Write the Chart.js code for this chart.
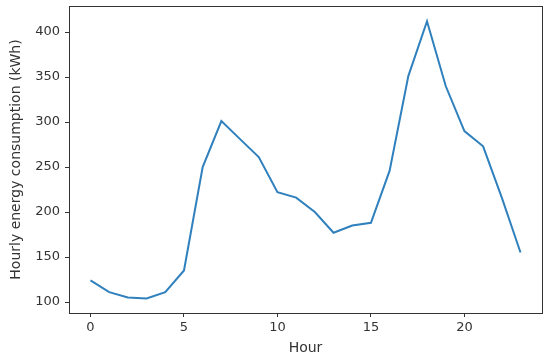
<!DOCTYPE html>
<html>
<head>
<meta charset="utf-8">
<script src="https://cdn.jsdelivr.net/npm/chart.js@4/dist/chart.umd.min.js"></script>
<style>
    html, body { margin: 0; padding: 0; background: #fff; }
    #energyChart { display: block; }
</style>
</head>
<body>
<canvas id="energyChart" width="550" height="361"></canvas>
<script>
// Data
const hours = [0, 1, 2, 3, 4, 5, 6, 7, 8, 9, 10, 11, 12, 13, 14, 15, 16, 17, 18, 19, 20, 21, 22, 23];
const consumption = [124, 111, 105, 104, 111, 135, 250, 301, 281, 261, 222, 216, 200, 177, 185, 188, 246, 351, 412, 340, 290, 273, 216, 155];
const xTicks = [0, 5, 10, 15, 20];
const yTicks = [100, 150, 200, 250, 300, 350, 400];

const inkColor = '#333';
const tickFont = { family: 'DejaVu Sans', size: 13 };
const titleFont = { family: 'DejaVu Sans', size: 14 };

// Draw the frame around the plot area (matplotlib style spines)
const framePlugin = {
    id: 'frame',
    afterDraw(chart) {
        const { ctx, chartArea } = chart;
        ctx.save();
        ctx.strokeStyle = inkColor;
        ctx.lineWidth = 1;
        ctx.strokeRect(
            Math.round(chartArea.left) + 0.5,
            Math.round(chartArea.top) + 0.5,
            Math.round(chartArea.right - chartArea.left),
            Math.round(chartArea.bottom - chartArea.top)
        );
        ctx.restore();
    }
};

const ctx = document.getElementById('energyChart').getContext('2d');
const energyChart = new Chart(ctx, {
    type: 'line',
    data: {
        datasets: [{
            data: hours.map((h, i) => ({ x: h, y: consumption[i] })),
            borderColor: '#2f80bd',
            borderWidth: 2,
            pointRadius: 0,
            tension: 0,
            fill: false
        }]
    },
    options: {
        responsive: false,
        animation: false,
        layout: {
            padding: { top: 6, right: 8, bottom: 0, left: 0 }
        },
        plugins: {
            legend: { display: false },
            tooltip: { enabled: false }
        },
        scales: {
            x: {
                type: 'linear',
                min: -1.15,
                max: 24.15,
                afterBuildTicks: (axis) => { axis.ticks = xTicks.map(v => ({ value: v })); },
                afterFit: (axis) => {
                    axis.height = 48;
                    axis.paddingLeft = 0;
                    axis.paddingRight = 0;
                },
                grid: {
                    drawOnChartArea: false,
                    drawTicks: true,
                    tickLength: 4,
                    color: inkColor
                },
                border: { display: false },
                ticks: {
                    padding: 3,
                    maxRotation: 0,
                    color: inkColor,
                    font: tickFont
                },
                title: {
                    display: true,
                    text: 'Hour',
                    color: inkColor,
                    padding: { top: 0, bottom: 4 },
                    font: titleFont
                }
            },
            y: {
                min: 87.8,
                max: 428.9,
                afterBuildTicks: (axis) => { axis.ticks = yTicks.map(v => ({ value: v })); },
                afterFit: (axis) => {
                    axis.width = 69;
                    axis.paddingTop = 0;
                    axis.paddingBottom = 0;
                },
                grid: {
                    drawOnChartArea: false,
                    drawTicks: true,
                    tickLength: 4,
                    color: inkColor
                },
                border: { display: false },
                ticks: {
                    padding: 5,
                    color: inkColor,
                    font: tickFont
                },
                title: {
                    display: true,
                    text: 'Hourly energy consumption (kWh)',
                    color: inkColor,
                    padding: { top: 8, bottom: 0 },
                    font: titleFont
                }
            }
        }
    },
    plugins: [framePlugin]
});
</script>
</body>
</html>
